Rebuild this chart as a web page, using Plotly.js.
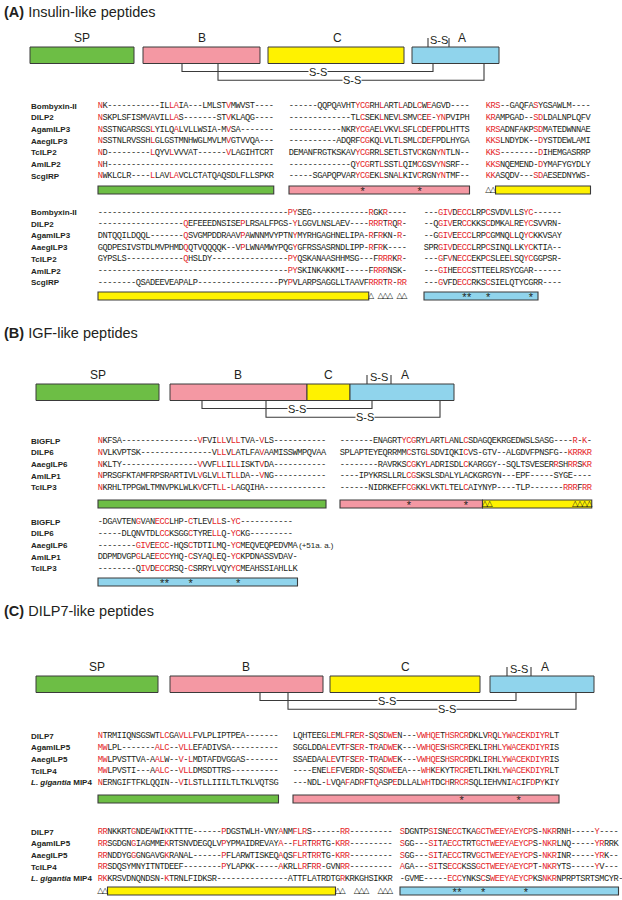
<!DOCTYPE html>
<html><head><meta charset="utf-8">
<script src="https://cdn.plot.ly/plotly-3.0.1.min.js"></script>
<style>html,body{margin:0;padding:0;background:#fff}</style>
</head><body>
<div id="chart" style="width:622px;height:900px"></div>
<script>
// ================= DATA =================
const domainLabels = ["SP", "B", "C", "A"];
// schematic domain spans (schematic units)
const spansA = [[30,134],[143,260],[268,404],[412,499]];
const spansB = [[36,159],[170,307],[307,350],[350,454]];
const spansC = [[36,158],[170,323],[330,480],[490,594]];
const labelXA = [82, 202, 337, 462];
const labelXB = [98, 238, 328, 405];
const labelXC = [97, 246, 405, 545];
// inter-chain disulfide bridges (B chain -> A chain)
const bridgesA = [[182,433],[218,484]];
const bridgesB = [[202,372],[266,440]];
const bridgesC = [[260,516],[288,576]];
const bridgeTextA = [318, 352];
const bridgeTextB = [297, 365];
const bridgeTextC = [387, 447];
// intra-A-chain disulfide
const intraA = [428,449];
const intraB = [367,391];
const intraC = [507,531];

// ---- Panel A: insulin-like peptides ----
const namesA = ["Bombyxin-II","DILP2","AgamILP3","AaegILP3","TcILP2","AmILP2","ScgIRP"];
const A1_sp = [
 "NK-----------ILLAIA---LMLSTVMWVST----",
 "NSKPLSFISMVAVILLAS-------STVKLAQG----",
 "NSSTNGARSGSLYILQALVLLWSIA-MVSA-------",
 "NSSTNLRVSSHLGLGSTMNHWGLMVLMVGTVVQA---",
 "ND---------LQYVLVVVAT------VLAGIHTCRT",
 "NH-----------------------------------",
 "NWKLCLR----LLAVLAVCLCTATQAQSDLFLLSPKR"];
const A1_b = [
 "------QQPQAVHTYCGRHLARTLADLCWEAGVD----",
 "-------------TLCSEKLNEVLSMVCEE-YNPVIPH",
 "-----------NKRYCGAELVKVLSFLCDEFPDLHTTS",
 "----------ADQRFCGKQLVLTLSMLCDEFPDLHYGA",
 "DEMANFRGTKSKAVYCGRRLSETLSTVCKGNYNTLN--",
 "-------------QYCGRTLSSTLQIMCGSVYNSRF--",
 "-----SGAPQPVARYCGEKLSNALKIVCRGNYNTMF--"];
const A1_c = [
 "KRS--GAQFASYGSAWLM----",
 "KRAMPGAD--SDLDALNPLQFV",
 "KRSADNFAKPSDMATEDWNNAE",
 "KKSLNDYDK--DYSTDEWLAMI",
 "KKS--------DIHEMGASRRP",
 "KKSNQEMEND-DYMAFYGYDLY",
 "KKASQDV---SDAESEDNYWS-"];
const A2_c = [
 "----------------------------------------PYSEG------------RGKR----",
 "------------------QEFEEEDNSISEPLRSALFPGS-YLGGVLNSLAEV----RRRTRQR-",
 "DNTQQILDQQL-------QSVGMPDDRAAVPAWNNMVYPTNYMYRHGAGHNELIPA-RFRKN-R-",
 "GQDPESIVSTDLMVPHMDQQTVQQQQK--VPLWNAMWYPQGYGFRSSASRNDLIPP-RFRK----",
 "GYPSLS------------QHSLDY----------------PYQSKANAASHHMSG---FRRRKR-",
 "----------------------------------------PYSKINKAKKMI-----FRRRNSK-",
 "--------QSADEEVEAPALP-----------------PYPVLARPSAGGLLTAAVFRRRTR-RR"];
const A2_a = [
 "---GIVDECCLRPCSVDVLLSYC------",
 "--QGIVERCCKKSCDMKALREYCSVVRN-",
 "--GGIVEECCLRPCGMNQLLQYCKKVSAY",
 "SPRGIVDECCLRPCSINQLLKYCKTIA--",
 "---GFVNECCEKPCSLEELSQYCGGPSR-",
 "---GIHEECCSTTEELRSYCGAR------",
 "---GVFDECCRKSCSIELQTYCGRR----"];
const redA1_sp = {0:"NM",11:"L",15:"L",16:"A",27:"V"};
const redA1_b  = {14:"Y",15:"C",16:"G",19:"L",23:"L",27:"C",29:"E",31:"Y",32:"N"};
const redA1_c  = {0:"K",1:"RK",2:"S",10:"S",11:"D"};
const redA2_c  = {18:"Q",30:"P",40:"P",41:"Y",57:"R",58:"R",59:"R",60:"R",61:"R",62:"R",63:"R",64:"R"};
const redA2_a  = {3:"G",4:"I",5:"V",7:"E",8:"C",9:"C",13:"C",18:"L",21:"Y",22:"C"};

// ---- Panel B: IGF-like peptides ----
const namesB = ["BIGFLP","DILP6","AaegILP6","AmILP1","TcILP3"];
const B1_sp = [
 "NKFSA----------------VFVILLVLLTVA-VLS-----------",
 "NVLKVPTSK---------------VLLVLATLFAVAAMISSWMPQVAA",
 "NKLTY----------------VVVFLLILLISKTVDA-----------",
 "NPRSGFKTAMFRPSRARTIVLVGLVLLTLLDA--VNG-----------",
 "NKRHLTPPGWLTMNVPKLWLKVCFTLL-LAGQIHA-------------"];
const B1_bc = [
 "-------ENAGRTYCGRYLARTLANLCSDAGQEKRGEDWSLSASG----R-K-",
 "SPLAPTEYEQRRMMCSTGLSDVIQKICVS-GTV--ALGDVFPNSFG--KRRKR",
 "--------RAVRKSCGKYLADRISDLCKARGGY--SQLTSVESERRSHRRSKR",
 "----IPYKRSLLRLCGSKSLSDALYLACKGRGYN---EPF-----SYGE----",
 "------NIDRKEFFCGKKLVKTLTELCAIYNYP----TLP-------RRRFRR"];
const B2_a = [
 "-DGAVTENGVANECCLHP-CTLEVLLS-YC-----------",
 "-----DLQNVTDLCCKSGGCTYRELLQ-YCKG---------",
 "--------GIVEECC-HQSCTDTILMQ-YCMEQVEQPEDVMA",
 "DDPMDVGPGLAEECCYHQ-CSYAQLEQ-YCKPDNASSVDAV-",
 "--------QIVDECCRSQ-CSRRYLVQYYCMEAHSSIAHLLK"];
const B2_note = "(+51a. a.)";
const redB1_sp = {0:"N",21:"V",25:"L",26:"L",28:"L",29:"L",34:"V"};
const redB1_bc = {13:"Y",14:"C",15:"G",18:"L",22:"L",26:"C",45:"RK",46:"RK",47:"RK",48:"RK",49:"RK",50:"RK",51:"RK",52:"RK"};
const redB2_a  = {8:"G",9:"I",10:"V",12:"E",13:"C",14:"C",19:"C",24:"L",25:"L",28:"Y",29:"C"};

// ---- Panel C: DILP7-like peptides ----
const namesC = ["DILP7","AgamILP5","AaegILP5","TcILP4","<i>L. gigantia</i> MIP4"];
const C1_sp = [
 "NTRMIIQNSGSWTLCGAVLLFVLPLIPTPEA-------",
 "MWLPL-------ALC--VLLEFADIVSA----------",
 "MWLPVSTTVA-AALW--V-LMDTAFDVGGAS-------",
 "MWLPVSTI---AALC--VLLDMSDTTRS----------",
 "NERNGIFTFKLQQIN--VILSTLLIIILTLTKLVQTSG"];
const C1_b = [
 "LQHTEEGLEMLFRER-SQSDWEN---VWHQETHSRCRDKLVRQLYWACEKDIYRLT",
 "SGGLDDALEVTFSER-TRADWEK---VWHQESHSRCREKLIRHLYWACEKDIYRIS",
 "SSAEDAALEVTFSER-TRADWEK---VWHQESHSRCRDKLIRHLYWACEKDIYRIS",
 "----ENELEFVERDR-SQSDWEEA---WHKEKYTRCRETLIKHLYWACEKDIYRLT",
 "---NDL-LVQAFADRFTQASPEDLLALWHTDCHRRCRSQLIEHVNIACIFDPYKIY"];
const C2_c = [
 "RRNKKRTGNDEAWIKKTTTE------PDGSTWLH-VNYANMFLRS------RR---------",
 "RRSGDGNGIAGMMEKRTSNVDEGQLVPYPMAIDREVAYA--FLRTRRTG-KRR---------",
 "RRNDDYGGGNGAVGKRANAL------PFLARWTISKEQAQSFLRTRRTG-KRR---------",
 "RRSDQSYMNYITNTDEEF--------PYLAPKK-----AKRLLRFRR-GVNRR---------",
 "RKKRSVDNQNDSN-KTRNLFIDKSR---------------ATTFLATRDTGRKRKGHSIKKR"];
const C2_a = [
 "SDGNTPSISNECCTKAGCTWEEYAEYCPS-NKRRNH-----Y----",
 "SGG---SITAECCTRTGCTWEEYAEYCPS-NKRLNQ-----YRRRK",
 "SGG---SITAECCTRVGCTWEEYAEYCPS-NKRINR-----YRK--",
 "AGA---SITSECCKSSGCTWEEYAEYCPT-NKRYTS-----YV---",
 "-GVME-----ECCYNKSCSWEEYAEYCPKSNKRNPRPTSRTSMCYR-"];
const redC1_sp = {0:"NM",1:"W",12:"A",13:"L",14:"C",17:"V",18:"L",19:"L"};
const redC1_b  = {7:"L",8:"E",10:"L",11:"F",13:"E",14:"R",17:"QR",19:"D",20:"W",21:"E",26:"V",27:"W",28:"H",29:"Q",30:"E",32:"H",33:"S",34:"R",35:"C",36:"R",41:"R",43:"L",44:"Y",45:"W",46:"A",47:"C",48:"E",49:"K",50:"D",51:"I",52:"Y",53:"R"};
const redC2_c  = {0:"R",1:"RK",7:"G",14:"K",26:"P",38:"A",41:"F",42:"L",43:"R",45:"R",46:"R",50:"K",51:"R",52:"R"};
const redC2_a  = {0:"SA",6:"S",7:"I",10:"E",11:"C",12:"C",16:"G",17:"C",18:"T",19:"W",20:"E",21:"E",22:"Y",23:"A",24:"E",25:"Y",26:"C",27:"P",30:"N",31:"K",32:"R",41:"Y",42:"R"};

// region bars: [domain index, column, from, to]
const barsA1 = [[0,0,0,37],[1,1,0,38],[2,2,2,22]];
const starsA1 = [[1,15],[1,27]];
const deltasA1 = [[2,0],[2,1]];
const barsA2 = [[2,0,0,57],[3,1,0,24]];
const starsA2 = [[1,8],[1,9],[1,13],[1,22]];
const deltasA2 = [[0,57],[0,59],[0,60],[0,61],[0,63],[0,64]];
const barsB1 = [[0,0,0,48],[1,1,0,30],[2,1,30,53]];
const starsB1 = [[1,14],[1,26]];
const deltasB1 = [[1,30],[1,31],[1,49],[1,50],[1,51],[1,52]];
const barsB2 = [[3,0,0,42]];
const starsB2 = [[0,13],[0,14],[0,19],[0,29]];
const deltasB2 = [];
const barsC1 = [[0,0,0,38],[1,1,0,56]];
const starsC1 = [[1,35],[1,47]];
const deltasC1 = [];
const barsC2 = [[2,0,2,50],[3,1,0,46]];
const starsC2 = [[1,11],[1,12],[1,17],[1,26]];
const deltasC2 = [[0,0],[0,1],[0,50],[0,51],[0,54],[0,55],[0,56],[0,59],[0,60],[0,61]];

// ================= DRAWING =================
const RED = "#e5262a", INK = "#231f20", LINE = "#3a3a3a";
const FILL = ["#6dbe45", "#f498a3", "#fff200", "#90d4ec"];
const SANS = "Liberation Sans, Arial, sans-serif";
const MONO = "Liberation Mono, DejaVu Sans Mono, monospace";
const CW = 4.75, ROW = 11.7;

const seqX = [], seqY = [], seqT = [], seqC = [];
const starX = [], starY = [], starT = [];
const deltaX = [], deltaY = [], deltaT = [];
const annotations = [], shapes = [];

function txt(x, y, text, size, opts) {
  annotations.push(Object.assign({x: x, y: y, xref: "x", yref: "y", text: text, showarrow: false,
    xanchor: "center", yanchor: "middle", font: {family: SANS, size: size, color: INK}}, opts || {}));
}

function title(y, letter, text) {
  txt(2, y, "<b>" + letter + "</b> " + text, 14.5, {xanchor: "left"});
}

function diagram(spans, labelX, yTop, bridges, bridgeText, intra) {
  const yBot = yTop + 16.5;
  spans.forEach((sp, k) => {
    shapes.push({type: "rect", xref: "x", yref: "y", layer: "below", x0: sp[0], x1: sp[1], y0: yTop, y1: yBot,
      fillcolor: FILL[k], line: {color: LINE, width: 1}});
    txt(labelX[k], yTop - 9, domainLabels[k], 12);
  });
  bridges.forEach((b, k) => {
    const yl = yBot + 8 + k * 8.7;
    shapes.push({type: "path", xref: "x", yref: "y",
      path: "M" + b[0] + "," + yBot + " V" + yl + " H" + b[1] + " V" + yBot,
      line: {color: LINE, width: 1.1}});
    txt(bridgeText[k], yl, "S-S", 11, {bgcolor: "#ffffff", borderpad: 0});
  });
  intra.forEach(x => shapes.push({type: "line", xref: "x", yref: "y", x0: x, x1: x, y0: yTop - 9, y1: yTop,
    line: {color: LINE, width: 1.1}}));
  txt((intra[0] + intra[1]) / 2, yTop - 7.5, "S-S", 11);
}

function block(names, cols, xs, rules, y0, bars, barY, stars, deltas) {
  names.forEach((n, r) => txt(29, y0 + r * ROW, "<b>" + n + "</b>", 8, {xanchor: "left"}));
  cols.forEach((seqs, c) => {
    seqs.forEach((s, r) => {
      for (let i = 0; i < s.length; i++) {
        const ch = s[i];
        seqX.push(xs[c] + (i + 0.5) * CW);
        seqY.push(y0 + r * ROW);
        seqT.push(ch);
        const rule = rules[c][i];
        seqC.push(rule && ch !== "-" && rule.indexOf(ch) >= 0 ? RED : INK);
      }
    });
  });
  bars.forEach(b => shapes.push({type: "rect", xref: "x", yref: "y", layer: "below",
    x0: xs[b[1]] + b[2] * CW, x1: xs[b[1]] + b[3] * CW, y0: barY - 4, y1: barY + 4,
    fillcolor: FILL[b[0]], line: {color: LINE, width: 1.1}}));
  stars.forEach(s => { starX.push(xs[s[0]] + (s[1] + 0.5) * CW); starY.push(barY + 2.5); starT.push("*"); });
  deltas.forEach(d => { deltaX.push(xs[d[0]] + (d[1] + 0.5) * CW); deltaY.push(barY); deltaT.push("\u25B3"); });
}

// Panel A
title(12, "(A)", "Insulin-like peptides");
diagram(spansA, labelXA, 47, bridgesA, bridgeTextA, intraA);
block(namesA, [A1_sp, A1_b, A1_c], [98, 289, 486], [redA1_sp, redA1_b, redA1_c], 106, barsA1, 190, starsA1, deltasA1);
block(namesA, [A2_c, A2_a], [98, 424], [redA2_c, redA2_a], 212.5, barsA2, 296, starsA2, deltasA2);

// Panel B
title(333, "(B)", "IGF-like peptides");
diagram(spansB, labelXB, 384, bridgesB, bridgeTextB, intraB);
block(namesB, [B1_sp, B1_bc], [98, 340], [redB1_sp, redB1_bc], 441, barsB1, 504, starsB1, deltasB1);
block(namesB, [B2_a], [98], [redB2_a], 522, barsB2, 582, starsB2, deltasB2);
txt(297, 522 + 2 * ROW, B2_note, 8, {xanchor: "left"});

// Panel C
title(611, "(C)", "DILP7-like peptides");
diagram(spansC, labelXC, 676, bridgesC, bridgeTextC, intraC);
block(namesC, [C1_sp, C1_b], [98, 293], [redC1_sp, redC1_b], 736, barsC1, 799, starsC1, deltasC1);
block(namesC, [C2_c, C2_a], [98, 400], [redC2_c, redC2_a], 832, barsC2, 891, starsC2, deltasC2);

const traces = [
  {type: "scatter", mode: "text", x: seqX, y: seqY, text: seqT, textposition: "middle center",
   textfont: {family: MONO, size: 8.7, color: seqC}, hoverinfo: "skip", showlegend: false},
  {type: "scatter", mode: "text", x: starX, y: starY, text: starT, textposition: "middle center",
   textfont: {family: SANS, size: 11, color: INK}, hoverinfo: "skip", showlegend: false},
  {type: "scatter", mode: "text", x: deltaX, y: deltaY, text: deltaT, textposition: "middle center",
   textfont: {family: "DejaVu Sans, sans-serif", size: 8, color: INK}, hoverinfo: "skip", showlegend: false}
];

const layout = {
  width: 622, height: 900,
  margin: {l: 0, r: 0, t: 0, b: 0},
  paper_bgcolor: "#ffffff", plot_bgcolor: "#ffffff",
  xaxis: {range: [0, 622], visible: false, fixedrange: true},
  yaxis: {range: [900, 0], visible: false, fixedrange: true},
  shapes: shapes, annotations: annotations, showlegend: false
};

Plotly.newPlot("chart", traces, layout, {staticPlot: true, displayModeBar: false});
</script>
</body></html>
